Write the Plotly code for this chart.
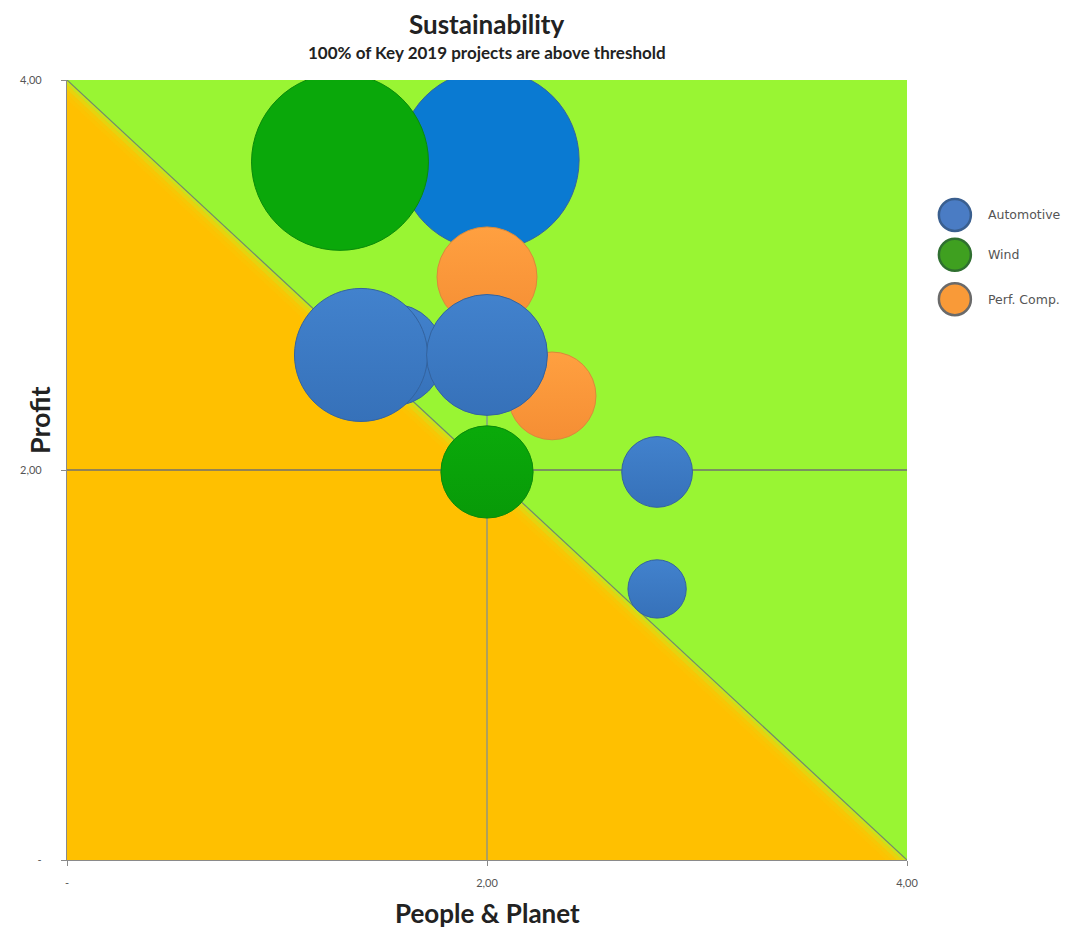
import plotly.graph_objects as go

# ---- data (drawing order, back to front) ----
series = ["Automotive", "Wind", "Perf. Comp.", "Automotive", "Perf. Comp.",
          "Automotive", "Automotive", "Wind", "Automotive", "Automotive"]
people_planet = [2.01, 1.30, 2.00, 1.55, 2.31, 1.40, 2.00, 2.00, 2.81, 2.81]
profit = [3.59, 3.58, 2.99, 2.59, 2.38, 2.59, 2.59, 1.99, 1.99, 1.39]
project_value = [32.4, 31.3, 10.0, 10.4, 7.7, 17.7, 14.6, 8.5, 5.0, 3.4]

legend_order = ["Automotive", "Wind", "Perf. Comp."]
tick_vals = [0, 2, 4]
tick_text = ["-", "2,00", "4,00"]

# ---- styles ----
fill = {"Automotive": "#4282CD", "Wind": "#0AAA0A", "Perf. Comp.": "#FFA040"}
shade = {"Automotive": "#3671B9", "Wind": "#089A08", "Perf. Comp.": "#F58E34"}
edge = {"Automotive": "#33639F", "Wind": "#0A8A0A", "Perf. Comp.": "#DA8A3A"}
big_fill = {"Automotive": "#0A7AD2", "Wind": "#0AA80A"}
legend_fill = {"Automotive": "#4A7CC4", "Wind": "#3FA020", "Perf. Comp.": "#F99A38"}
legend_edge = {"Automotive": "#3A5F8F", "Wind": "#2F6F30", "Perf. Comp.": "#6A6A6A"}

max_px = 180
sizeref = 2 * max(project_value) / max_px ** 2

fig = go.Figure()
for s, xv, yv, v in zip(series, people_planet, profit, project_value):
    is_big = v > 25
    col = big_fill[s] if is_big else fill[s]
    fig.add_trace(go.Scatter(
        x=[xv], y=[yv], mode="markers", name=s, legendgroup=s, showlegend=False,
        marker=dict(size=[v], sizemode="area", sizeref=sizeref, color=col,
                    opacity=1,
                    line=dict(color=edge[s], width=1),
                    gradient=dict(type="none" if is_big else "vertical",
                                  color=shade[s])),
        hovertemplate=s + "<br>People & Planet: %{x:.2f}<br>Profit: %{y:.2f}<extra></extra>",
    ))

shapes = []
# green region above diagonal
shapes.append(dict(type="path", path="M 0 4 L 4 4 L 4 0 Z", xref="x", yref="y",
                   fillcolor="#99F533", line=dict(width=0), layer="below"))
# soft transition band on orange side
band_cols = ["#C6E41E", "#E6D410", "#F6C806", "#FCC302"]
step = 0.025
for i, c in enumerate(band_cols):
    d0, d1 = i * step, (i + 1) * step
    shapes.append(dict(type="path",
                       path=f"M 0 {4 - d0} L {4 - d0} 0 L {4 - d1} 0 L 0 {4 - d1} Z",
                       xref="x", yref="y", fillcolor=c, line=dict(width=0),
                       layer="below", opacity=0.9))
# diagonal threshold
shapes.append(dict(type="line", x0=0, y0=4, x1=4, y1=0, xref="x", yref="y",
                   line=dict(color="#6E8A6E", width=1.2), layer="below"))
# crossing axes at 2,2
shapes.append(dict(type="line", x0=0, y0=2, x1=4, y1=2, xref="x", yref="y",
                   line=dict(color="#707070", width=1.5), layer="below"))
shapes.append(dict(type="line", x0=2, y0=0, x1=2, y1=4, xref="x", yref="y",
                   line=dict(color="#7A8A9A", width=1.2), layer="below"))

# legend drawn as circles
annotations = []
leg_y = [0.827, 0.776, 0.719]
for name, ly in zip(legend_order, leg_y):
    shapes.append(dict(type="circle", xref="paper", yref="paper",
                       xsizemode="pixel", ysizemode="pixel",
                       xanchor=1.057, yanchor=ly, x0=-16, x1=16, y0=-16, y1=16,
                       fillcolor=legend_fill[name],
                       line=dict(color=legend_edge[name], width=2.5)))
    annotations.append(dict(text=name, xref="paper", yref="paper", x=1.094, y=ly,
                            xanchor="left", yanchor="middle", showarrow=False,
                            font=dict(family="DejaVu Sans", size=12.5, color="#555555")))

annotations.append(dict(text="<b>Sustainability</b>", xref="paper", yref="paper",
                        x=0.5, y=1.0, yshift=56, xanchor="center", yanchor="middle",
                        showarrow=False,
                        font=dict(family="Lato", size=26, color="#222222")))
annotations.append(dict(text="<b>100% of Key 2019 projects are above threshold</b>",
                        xref="paper", yref="paper", x=0.5, y=1.0, yshift=28,
                        xanchor="center", yanchor="middle", showarrow=False,
                        font=dict(family="Lato", size=17, color="#222222")))
annotations.append(dict(text="<b>Profit</b>", xref="paper", yref="paper",
                        x=0, y=0.564, xshift=-28, textangle=-90,
                        xanchor="center", yanchor="middle", showarrow=False,
                        font=dict(family="Lato", size=27, color="#222222")))
annotations.append(dict(text="<b>People & Planet</b>", xref="paper", yref="paper",
                        x=0.5, y=0, yshift=-53, xanchor="center", yanchor="middle",
                        showarrow=False,
                        font=dict(family="Lato", size=26, color="#222222")))

axis_common = dict(range=[0, 4], tickvals=tick_vals, ticktext=tick_text,
                   showgrid=False, zeroline=False, showline=True,
                   linecolor="#8A8A8A", linewidth=1.2, ticks="outside",
                   ticklen=5, tickcolor="#8A8A8A",
                   tickfont=dict(family="Lato", size=11, color="#555555"))

fig.update_layout(
    width=1077, height=935,
    margin=dict(l=57, r=178, t=72, b=83),
    paper_bgcolor="white", plot_bgcolor="#FFC000",
    showlegend=False,
    shapes=shapes, annotations=annotations,
    xaxis=dict(**axis_common, ticklabelstandoff=8),
    yaxis=dict(**axis_common, ticklabelstandoff=17),
)

fig.write_html("out.html")
